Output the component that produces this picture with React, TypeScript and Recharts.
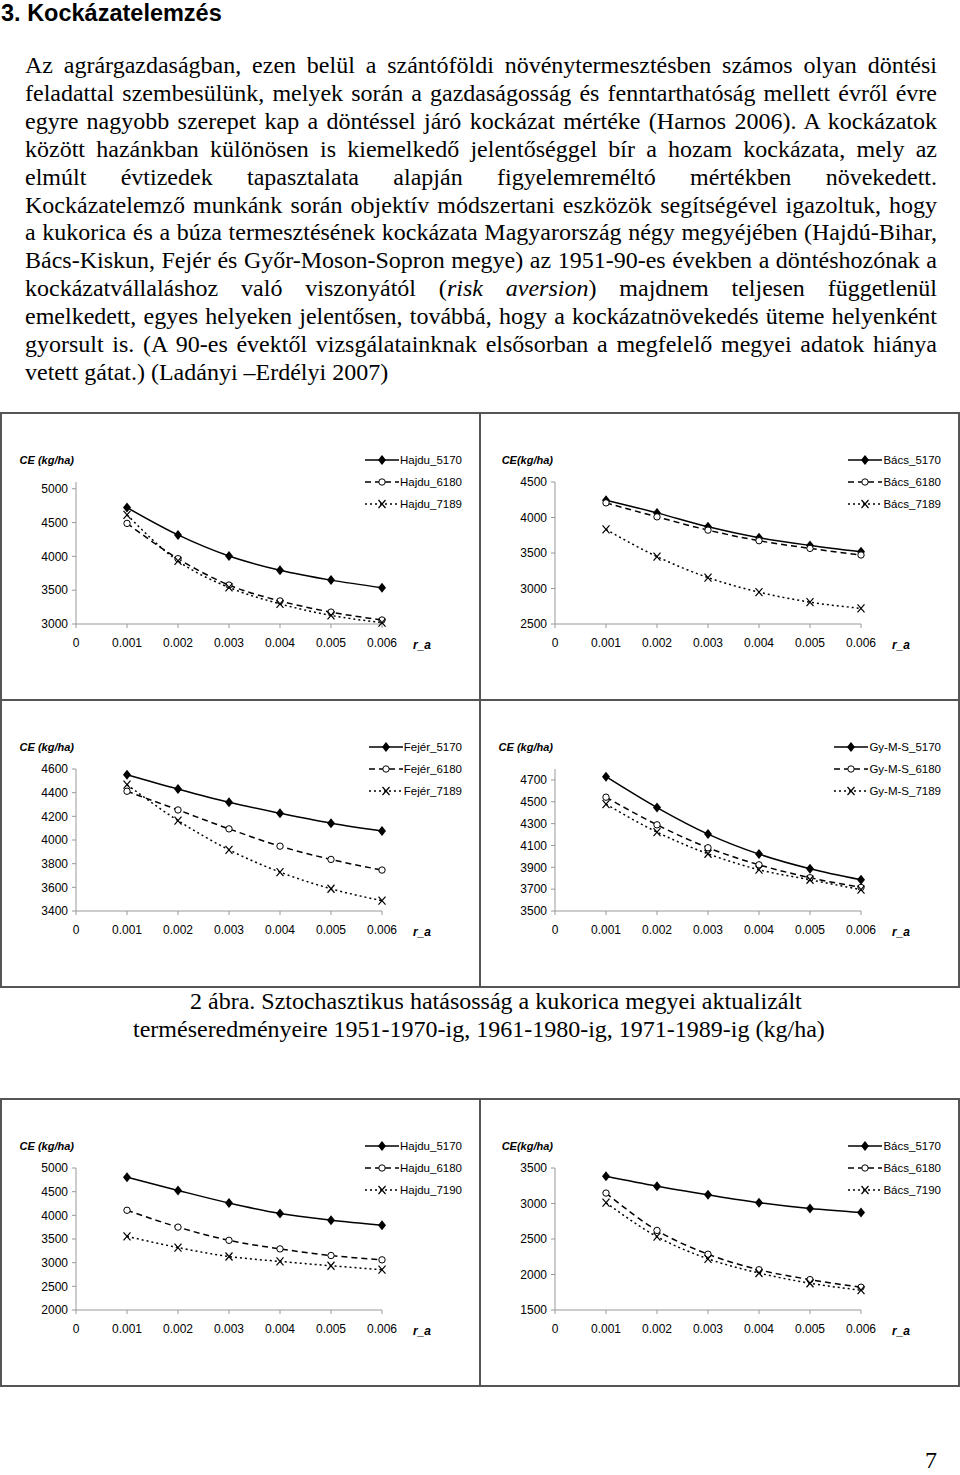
import { LineChart, Line, XAxis, YAxis } from 'recharts';

// r_a (kockázatkerülési együttható)
const rA = [0.001, 0.002, 0.003, 0.004, 0.005, 0.006];
const xTicks = [0, 0.001, 0.002, 0.003, 0.004, 0.005, 0.006];

// 2. ábra - Hajdú-Bihar
const hajdu5170 = [4722, 4317, 4005, 3795, 3649, 3537];
const hajdu6180 = [4488, 3966, 3576, 3341, 3176, 3059];
const hajdu7189 = [4615, 3932, 3541, 3298, 3127, 3020];

// 2. ábra - Bács-Kiskun
const bacs5170 = [4243, 4065, 3869, 3715, 3607, 3519];
const bacs6180 = [4206, 4009, 3822, 3673, 3565, 3472];
const bacs7189 = [3832, 3449, 3154, 2949, 2808, 2720];

// 2. ábra - Fejér
const fejer5170 = [4552, 4431, 4319, 4226, 4142, 4077];
const fejer6180 = [4412, 4254, 4094, 3948, 3836, 3746];
const fejer7189 = [4468, 4164, 3917, 3729, 3588, 3487];

// 2. ábra - Győr-Moson-Sopron
const gyms5170 = [4730, 4447, 4204, 4021, 3887, 3786];
const gyms6180 = [4542, 4289, 4079, 3923, 3805, 3716];
const gyms7189 = [4478, 4222, 4024, 3878, 3786, 3695];

// búza - Hajdú-Bihar
const hajduB5170 = [4805, 4526, 4260, 4037, 3898, 3793];
const hajduB6180 = [4107, 3751, 3472, 3291, 3151, 3060];
const hajduB7190 = [3556, 3319, 3130, 3026, 2935, 2851];

// búza - Bács-Kiskun
const bacsB5170 = [3384, 3244, 3123, 3012, 2928, 2872];
const bacsB6180 = [3147, 2621, 2286, 2067, 1928, 1821];
const bacsB7190 = [3012, 2533, 2221, 2021, 1877, 1779];

const bodyLines = [
  'Az agrárgazdaságban, ezen belül a szántóföldi növénytermesztésben számos olyan döntési',
  'feladattal szembesülünk, melyek során a gazdaságosság és fenntarthatóság mellett évről évre',
  'egyre nagyobb szerepet kap a döntéssel járó kockázat mértéke (Harnos 2006). A kockázatok',
  'között hazánkban különösen is kiemelkedő jelentőséggel bír a hozam kockázata, mely az',
  'elmúlt évtizedek tapasztalata alapján figyelemreméltó mértékben növekedett.',
  'Kockázatelemző munkánk során objektív módszertani eszközök segítségével igazoltuk, hogy',
  'a kukorica és a búza termesztésének kockázata Magyarország négy megyéjében (Hajdú-Bihar,',
  'Bács-Kiskun, Fejér és Győr-Moson-Sopron megye) az 1951-90-es években a döntéshozónak a',
  '',
  'emelkedett, egyes helyeken jelentősen, továbbá, hogy a kockázatnövekedés üteme helyenként',
  'gyorsult is. (A 90-es évektől vizsgálatainknak elsősorban a megfelelő megyei adatok hiánya',
];

const CELL_W = 481;
const CELL_H = 289;
const FONT = "'Liberation Sans', Arial, sans-serif";
const SERIF = "'Liberation Serif', 'Times New Roman', serif";
const DASHES = [undefined, '6 4', '2 3'];

function Diamond({ cx, cy, index }: any) {
  if (cx == null || cy == null) return null;
  return <path key={`d${index}`} d={`M${cx},${cy - 5}L${cx + 4},${cy}L${cx},${cy + 5}L${cx - 4},${cy}Z`} fill="#000" />;
}

function Ring({ cx, cy, index }: any) {
  if (cx == null || cy == null) return null;
  return <circle key={`c${index}`} cx={cx} cy={cy} r={3.2} fill="#fff" stroke="#000" strokeWidth={1} />;
}

function Cross({ cx, cy, index }: any) {
  if (cx == null || cy == null) return null;
  return (
    <path key={`x${index}`} d={`M${cx - 3.5},${cy - 4}L${cx + 3.5},${cy + 4}M${cx + 3.5},${cy - 4}L${cx - 3.5},${cy + 4}`}
      stroke="#000" strokeWidth={1.2} fill="none" />
  );
}

const MARKERS = [Diamond, Ring, Cross];

type ChartProps = {
  left: number;
  top: number;
  names: string[];
  series: number[][];
  yDomain: [number, number];
  yTicks: number[];
  yLabel: string;
};

function CEChart({ left, top, names, series, yDomain, yTicks, yLabel }: ChartProps) {
  const data = rA.map((r, i) => ({ r, s0: series[0][i], s1: series[1][i], s2: series[2][i] }));
  return (
    <div style={{ position: 'absolute', left, top, width: CELL_W, height: CELL_H }}>
      <div style={{ position: 'absolute', left: 0, top: 0, width: CELL_W, height: CELL_H, border: '2px solid #555', boxSizing: 'border-box' }} />
      <div style={{ position: 'absolute', left: 0, top: 0 }}>
        <LineChart width={CELL_W} height={CELL_H} data={data} margin={{ top: 70, right: 99, bottom: 47, left: 0 }}>
          <XAxis
            dataKey="r"
            type="number"
            domain={[0, 0.006]}
            ticks={xTicks}
            interval={0}
            tickFormatter={(v) => String(v)}
            height={30}
            stroke="#999"
            tickSize={4}
            tickMargin={10}
            tick={{ fill: '#000', fontSize: 12, fontFamily: FONT }}
          />
          <YAxis
            type="number"
            domain={yDomain}
            ticks={yTicks}
            interval={0}
            width={76}
            stroke="#999"
            tickSize={4}
            tickMargin={4}
            tick={{ fill: '#000', fontSize: 12, fontFamily: FONT }}
          />
          {names.map((n, k) => (
            <Line
              key={n}
              type="monotone"
              dataKey={`s${k}`}
              name={n}
              stroke="#000"
              strokeWidth={1.5}
              strokeDasharray={DASHES[k]}
              dot={MARKERS[k]}
              activeDot={false}
              isAnimationActive={false}
            />
          ))}
        </LineChart>
      </div>
      <div style={{ position: 'absolute', right: CELL_W - 74, top: 40, lineHeight: '16px', fontFamily: FONT, fontSize: 11, fontWeight: 'bold', fontStyle: 'italic', whiteSpace: 'nowrap' }}>
        {yLabel}
      </div>
      <div style={{ position: 'absolute', left: 413, top: 225, lineHeight: '16px', fontFamily: FONT, fontSize: 12, fontWeight: 'bold', fontStyle: 'italic' }}>
        r_a
      </div>
      <div style={{ position: 'absolute', right: CELL_W - 462, top: 37, fontFamily: FONT, fontSize: 11.5 }}>
        {names.map((n, k) => {
          const M = MARKERS[k];
          return (
            <div key={n} style={{ display: 'flex', alignItems: 'center', justifyContent: 'flex-end', height: 22 }}>
              <svg width={34} height={12} style={{ marginRight: 1 }}>
                <line x1={0} y1={6} x2={34} y2={6} stroke="#000" strokeWidth={1.5} strokeDasharray={DASHES[k]} />
                <M cx={17} cy={6} index={0} />
              </svg>
              <span style={{ whiteSpace: 'nowrap' }}>{n}</span>
            </div>
          );
        })}
      </div>
    </div>
  );
}

const lineStyle = (i: number, last = false): any => ({
  position: 'absolute',
  left: 25,
  top: 52 + i * 27.9,
  width: 912,
  lineHeight: '27.9px',
  textAlign: 'justify',
  textAlignLast: last ? 'left' : 'justify',
});

export default function App() {
  return (
    <div style={{ position: 'absolute', left: 0, top: 0, width: 960, height: 1475, background: '#fff', fontFamily: SERIF, fontSize: 24, color: '#000', overflow: 'hidden' }}>
      <div style={{ position: 'absolute', left: 1, top: 0, lineHeight: '26px', fontFamily: FONT, fontWeight: 'bold', fontSize: 23.5, whiteSpace: 'nowrap' }}>
        3. Kockázatelemzés
      </div>
      {bodyLines.map((t, i) =>
        i === 8 ? (
          <div key={i} style={lineStyle(i)}>
            kockázatvállaláshoz való viszonyától (<i>risk</i> <i>aversion</i>) majdnem teljesen függetlenül
          </div>
        ) : (
          <div key={i} style={lineStyle(i)}>{t}</div>
        )
      )}
      <div style={lineStyle(11, true)}>vetett gátat.) (Ladányi –Erdélyi 2007)</div>

      <CEChart left={0} top={412} names={['Hajdu_5170', 'Hajdu_6180', 'Hajdu_7189']} series={[hajdu5170, hajdu6180, hajdu7189]}
        yDomain={[3000, 5100]} yTicks={[3000, 3500, 4000, 4500, 5000]} yLabel="CE (kg/ha)" />
      <CEChart left={479} top={412} names={['Bács_5170', 'Bács_6180', 'Bács_7189']} series={[bacs5170, bacs6180, bacs7189]}
        yDomain={[2500, 4500]} yTicks={[2500, 3000, 3500, 4000, 4500]} yLabel="CE(kg/ha)" />
      <CEChart left={0} top={699} names={['Fejér_5170', 'Fejér_6180', 'Fejér_7189']} series={[fejer5170, fejer6180, fejer7189]}
        yDomain={[3400, 4600]} yTicks={[3400, 3600, 3800, 4000, 4200, 4400, 4600]} yLabel="CE (kg/ha)" />
      <CEChart left={479} top={699} names={['Gy-M-S_5170', 'Gy-M-S_6180', 'Gy-M-S_7189']} series={[gyms5170, gyms6180, gyms7189]}
        yDomain={[3500, 4800]} yTicks={[3500, 3700, 3900, 4100, 4300, 4500, 4700]} yLabel="CE (kg/ha)" />

      <div style={{ position: 'absolute', left: 190, top: 988, lineHeight: '27.9px', whiteSpace: 'nowrap' }}>
        2 ábra. Sztochasztikus hatásosság a kukorica megyei aktualizált
      </div>
      <div style={{ position: 'absolute', left: 133, top: 1016, lineHeight: '27.9px', whiteSpace: 'nowrap' }}>
        terméseredményeire 1951-1970-ig, 1961-1980-ig, 1971-1989-ig (kg/ha)
      </div>

      <CEChart left={0} top={1098} names={['Hajdu_5170', 'Hajdu_6180', 'Hajdu_7190']} series={[hajduB5170, hajduB6180, hajduB7190]}
        yDomain={[2000, 5000]} yTicks={[2000, 2500, 3000, 3500, 4000, 4500, 5000]} yLabel="CE (kg/ha)" />
      <CEChart left={479} top={1098} names={['Bács_5170', 'Bács_6180', 'Bács_7190']} series={[bacsB5170, bacsB6180, bacsB7190]}
        yDomain={[1500, 3500]} yTicks={[1500, 2000, 2500, 3000, 3500]} yLabel="CE(kg/ha)" />

      <div style={{ position: 'absolute', left: 925, top: 1450, lineHeight: '20px' }}>7</div>
    </div>
  );
}
